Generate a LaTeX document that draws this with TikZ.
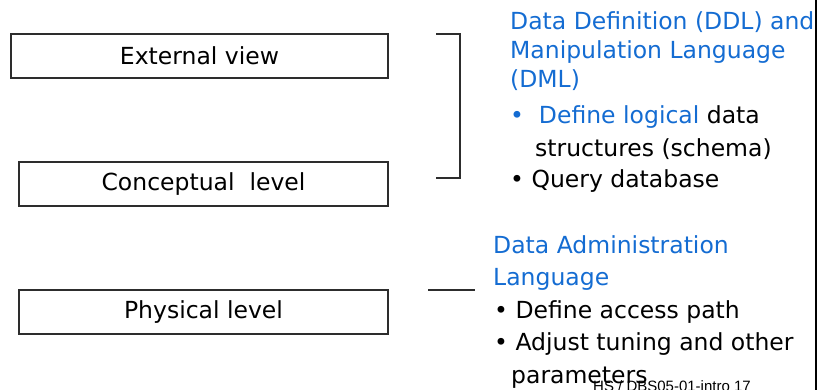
\documentclass[tikz,border=0pt]{standalone}
\usepackage{fontspec}
\usepackage{xcolor}
\usepackage{tikz}
\usetikzlibrary{positioning}
\setmainfont{DejaVu Sans}
\newfontfamily\footfont{Liberation Sans}
\definecolor{slideblue}{RGB}{20,108,210}
\definecolor{slidegray}{RGB}{45,45,45}

\tikzset{
  levelbox/.style={draw=slidegray, line width=1.5pt, rectangle, minimum height=44pt, inner sep=0pt, font=\fontsize{23.5}{28}\selectfont},
  say/.style={anchor=base west, inner sep=0pt, font=\fontsize{23.5}{28}\selectfont},
  sayblue/.style={say, text=slideblue}
}

\begin{document}
\begin{tikzpicture}[x=1pt, y=-1pt, node distance=128pt]
    \useasboundingbox (0,0) rectangle (821,390);

    % the three levels
    \node (ext) [levelbox, minimum width=377pt] at (199.5,56) {External view};
    \node (con) [levelbox, minimum width=369pt, below of=ext, xshift=4pt] {Conceptual\ \ level\hspace{16pt}};
    \node (phy) [levelbox, minimum width=369pt, below of=con] {Physical level\hspace{16pt}};

    % bracket for external + conceptual, tick for physical
    \coordinate (bt) at (436,34);
    \coordinate (bb) at (436,178);
    \coordinate (pl) at (428,290);
    \coordinate (pr) at (475,290);
    \draw[slidegray, line width=1.5pt] (bt) -| (460,178) -- (bb);
    \draw[slidegray, line width=1.5pt] (pl) -- (pr);

    % DDL / DML
    \node (ddl1) [sayblue] at (510,30) {Data Definition (DDL) and};
    \node (ddl2) [sayblue] at (510,59) {Manipulation Language};
    \node (ddl3) [sayblue] at (510,88) {(DML)};
    \node (itm1) [sayblue] at (510,124) {•\ \ Define logical \textcolor{black}{data}};
    \node (itm1b) [say] at (535,157) {structures (schema)};
    \node (itm2) [say] at (510,188) {• Query database};

    % administration
    \node (adm1) [sayblue] at (493,253) {Data Administration};
    \node (adm2) [sayblue] at (493,285) {Language};
    \node (adm3) [say] at (494,318) {• Define access path};
    \node (adm4) [say] at (494,350) {• Adjust tuning and other};
    \node (adm5) [say] at (511,383) {parameters};

    % slide edge and footer
    \coordinate (et) at (815.5,0);
    \coordinate (eb) at (815.5,390);
    \draw[black, line width=2pt] (et) -- (eb);
    \node (foot) [anchor=base west, inner sep=0pt, font=\footfont\fontsize{15}{18}\selectfont] at (593,391) {HS / DBS05-01-intro 17};
\end{tikzpicture}
\end{document}
